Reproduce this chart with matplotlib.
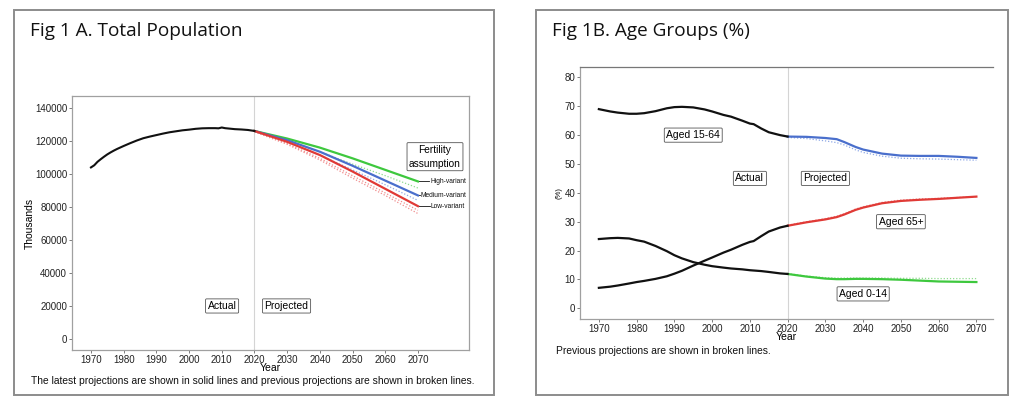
import matplotlib
matplotlib.use("Agg")
import matplotlib.pyplot as plt
from matplotlib.patches import Rectangle

plt.rcParams['font.family'] = ['Liberation Sans', 'DejaVu Sans']

# ---------------- Data: Fig 1A total population (thousands) ----------------
years_actual = [1970, 1971, 1972, 1973, 1974, 1975, 1976, 1977, 1978, 1979, 1980,
                1982, 1984, 1986, 1988, 1990, 1992, 1994, 1996, 1998, 2000,
                2002, 2004, 2006, 2008, 2009, 2010, 2011, 2012, 2014, 2016, 2018, 2020]
pop_actual = [104000, 105300, 107400, 109000, 110500, 111900, 113100, 114200, 115200, 116100, 117000,
              118700, 120300, 121700, 122700, 123600, 124500, 125300, 125900, 126500, 126900,
              127400, 127700, 127800, 127800, 127700, 128200, 127800, 127600, 127200, 127000, 126700, 126100]

years_proj = [2020, 2030, 2040, 2050, 2060, 2070]
pop_high = [126100, 121500, 116000, 109500, 102500, 95500]
pop_medium = [126100, 120500, 113500, 105000, 96000, 87000]
pop_low = [126100, 119500, 111500, 101500, 91000, 80500]
prev_high = [126100, 120500, 113500, 106000, 99000, 91500]
prev_medium = [126100, 119500, 111500, 102500, 93500, 84000]
prev_low_a = [125800, 118500, 109500, 99000, 88500, 78000]
prev_low_b = [125600, 118000, 108500, 97500, 87000, 76000]
variant_labels = ["High-variant", "Medium-variant", "Low-variant"]

# ---------------- Data: Fig 1B age groups (%) ----------------
years_b_actual = [1970, 1973, 1975, 1978, 1980, 1982, 1985, 1988, 1990, 1992, 1995, 1998,
                  2000, 2003, 2005, 2008, 2010, 2011, 2013, 2015, 2018, 2020]
age1564_actual = [69.0, 68.2, 67.8, 67.4, 67.4, 67.6, 68.3, 69.3, 69.7, 69.8, 69.6, 68.9,
                  68.2, 67.0, 66.4, 65.0, 64.0, 63.8, 62.3, 61.0, 60.0, 59.5]
age65_actual = [7.1, 7.5, 7.9, 8.6, 9.1, 9.5, 10.2, 11.1, 12.0, 13.0, 14.8, 16.5,
                17.6, 19.3, 20.3, 22.0, 23.0, 23.3, 25.0, 26.6, 28.0, 28.6]
age014_actual = [24.0, 24.3, 24.4, 24.2, 23.6, 23.1, 21.6, 19.8, 18.4, 17.3, 16.0, 15.1,
                 14.6, 14.1, 13.8, 13.5, 13.2, 13.1, 12.9, 12.6, 12.1, 11.9]

years_b_proj = [2020, 2025, 2030, 2033, 2035, 2038, 2040, 2045, 2050, 2055, 2060, 2065, 2070]
age1564_proj = [59.5, 59.4, 59.0, 58.6, 57.6, 55.9, 55.0, 53.6, 52.9, 52.8, 52.8, 52.5, 52.1]
age65_proj = [28.6, 29.8, 30.8, 31.6, 32.5, 34.1, 34.9, 36.4, 37.2, 37.6, 37.9, 38.3, 38.7]
age014_proj = [11.9, 11.0, 10.3, 10.1, 10.1, 10.2, 10.2, 10.1, 9.9, 9.6, 9.3, 9.2, 9.1]
age1564_prev = [59.2, 58.8, 58.0, 57.4, 56.6, 54.9, 54.0, 52.7, 52.0, 51.8, 51.7, 51.5, 51.3]
age65_prev = [28.8, 30.0, 31.1, 31.9, 32.8, 34.4, 35.2, 36.7, 37.5, 37.9, 38.1, 38.4, 38.7]
age014_prev = [12.0, 11.2, 10.6, 10.5, 10.5, 10.5, 10.5, 10.5, 10.4, 10.4, 10.3, 10.3, 10.3]

xticks = [1970, 1980, 1990, 2000, 2010, 2020, 2030, 2040, 2050, 2060, 2070]

GREEN = "#3ec83e"
BLUE = "#4a6fcc"
RED = "#e03a36"
GREEN_L = "#8fdc8f"
BLUE_L = "#8ea8e6"
RED_L = "#f08c8c"

fig = plt.figure(figsize=(10.24, 4.12), dpi=100)

# panel frames
for x0, w in [(14, 480), (536, 472)]:
    fig.patches.append(Rectangle((x0 / 1024, 1 - 395 / 412), w / 1024, 385 / 412,
                                 transform=fig.transFigure, fill=False,
                                 edgecolor="#8c8c8c", linewidth=1.4))

fig.text(30 / 1024, 1 - 31 / 412, "Fig 1 A. Total Population", fontsize=13.7,
         family=["Open Sans", "DejaVu Sans"], va="center", ha="left", color="#111111")
fig.text(552 / 1024, 1 - 31 / 412, "Fig 1B. Age Groups (%)", fontsize=13.7,
         family=["Open Sans", "DejaVu Sans"], va="center", ha="left", color="#111111")

fig.text(31 / 1024, 1 - 381 / 412,
         "The latest projections are shown in solid lines and previous projections are shown in broken lines.",
         fontsize=7.35, va="center", ha="left", color="#111111")
fig.text(556 / 1024, 1 - 351 / 412, "Previous projections are shown in broken lines.",
         fontsize=7.4, va="center", ha="left", color="#111111")

box = dict(boxstyle="round,pad=0.2,rounding_size=0.1", facecolor="white",
           edgecolor="#555555", linewidth=0.6)

def style_axes(ax, spines):
    for s in ['left', 'right', 'top', 'bottom']:
        ax.spines[s].set_visible(s in spines)
        ax.spines[s].set_color("#a0a0a0")
        ax.spines[s].set_linewidth(0.9)
    ax.tick_params(axis='both', labelsize=7.0, length=2, width=0.6, color="#666666",
                   labelcolor="#222222", pad=1.5)

# ---------------- Left panel ----------------
axA = fig.add_axes([72 / 1024, 1 - 350 / 412, (469 - 72) / 1024, (350 - 96) / 412])
style_axes(axA, ['left', 'right', 'top', 'bottom'])
axA.axvline(2020, color="#d4d4d4", linewidth=0.8, zorder=1)
axA.plot(years_proj, prev_high, color=GREEN_L, linestyle=(0, (1, 1.5)), linewidth=0.9)
axA.plot(years_proj, prev_medium, color=BLUE_L, linestyle=(0, (1, 1.5)), linewidth=0.9)
axA.plot(years_proj, prev_low_a, color=RED_L, linestyle=(0, (1, 1.5)), linewidth=0.9)
axA.plot(years_proj, prev_low_b, color=RED_L, linestyle=(0, (1, 1.5)), linewidth=0.9)
axA.plot(years_proj, pop_high, color=GREEN, linewidth=1.6)
axA.plot(years_proj, pop_medium, color=BLUE, linewidth=1.6)
axA.plot(years_proj, pop_low, color=RED, linewidth=1.6)
axA.plot(years_actual, pop_actual, color="#111111", linewidth=1.5)
axA.set_xlim(1964.2, 2085.6)
axA.set_ylim(-6700, 147300)
axA.set_xticks(xticks)
axA.set_yticks(range(0, 140001, 20000))
axA.set_xlabel("Year", fontsize=7.5, labelpad=-1)
axA.set_ylabel("Thousands", fontsize=7.5, labelpad=0)

ends = [pop_high[-1], pop_medium[-1], pop_low[-1]]
label_y = [95500, 87000, 80500]
label_x = [2073.7, 2070.8, 2073.9]
for yv, ly, lx, lab in zip(ends, label_y, label_x, variant_labels):
    axA.plot([2070.3, lx - 0.2], [yv, ly], color="#111111", linewidth=0.6)
    axA.text(lx, ly, lab, fontsize=4.8, va="center", ha="left", color="#111111")
axA.text(2075.2, 110500, "Fertility\nassumption", fontsize=7.3, ha="center", va="center",
         linespacing=1.5, bbox=box)
axA.text(2010.1, 20000, "Actual", fontsize=7.5, ha="center", va="center", bbox=box)
axA.text(2029.8, 20000, "Projected", fontsize=7.5, ha="center", va="center", bbox=box)

# ---------------- Right panel ----------------
axB = fig.add_axes([580 / 1024, 1 - 319 / 412, (993 - 580) / 1024, (319 - 67) / 412])
style_axes(axB, ['left', 'top', 'bottom'])
axB.spines['top'].set_color("#777777")
axB.axvline(2020, color="#d4d4d4", linewidth=0.8, zorder=1)
axB.plot(years_b_proj, age1564_prev, color=BLUE_L, linestyle=(0, (1, 1.5)), linewidth=0.9)
axB.plot(years_b_proj, age65_prev, color=RED_L, linestyle=(0, (1, 1.5)), linewidth=0.9)
axB.plot(years_b_proj, age014_prev, color=GREEN_L, linestyle=(0, (1, 1.5)), linewidth=0.9)
axB.plot(years_b_proj, age1564_proj, color=BLUE, linewidth=1.6)
axB.plot(years_b_proj, age65_proj, color=RED, linewidth=1.6)
axB.plot(years_b_proj, age014_proj, color=GREEN, linewidth=1.6)
axB.plot(years_b_actual, age1564_actual, color="#111111", linewidth=1.6)
axB.plot(years_b_actual, age65_actual, color="#111111", linewidth=1.6)
axB.plot(years_b_actual, age014_actual, color="#111111", linewidth=1.6)
axB.set_xlim(1965.0, 2074.4)
axB.set_ylim(-3.7, 83.6)
axB.set_xticks(xticks)
axB.set_yticks(range(0, 81, 10))
axB.set_xlabel("Year", fontsize=7.5, labelpad=-1)
axB.set_ylabel("(%)", fontsize=5.5, labelpad=1)

axB.text(1995, 60, "Aged 15-64", fontsize=7.5, ha="center", va="center", bbox=box)
axB.text(2050, 30, "Aged 65+", fontsize=7.5, ha="center", va="center", bbox=box)
axB.text(2040, 5, "Aged 0-14", fontsize=7.5, ha="center", va="center", bbox=box)
axB.text(2010, 45, "Actual", fontsize=7.5, ha="center", va="center", bbox=box)
axB.text(2030, 45, "Projected", fontsize=7.5, ha="center", va="center", bbox=box)

fig.savefig("out.png", dpi=100)
